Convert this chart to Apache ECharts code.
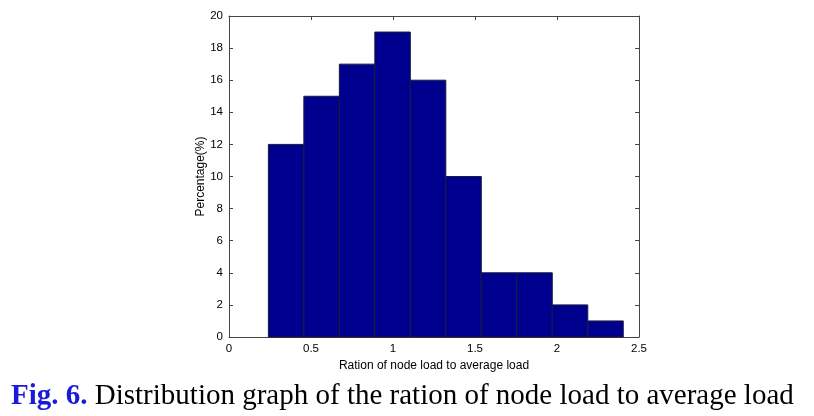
<!DOCTYPE html>
<html><head><meta charset="utf-8">
<script src="https://cdn.jsdelivr.net/npm/echarts@6/dist/echarts.min.js"></script>
<style>html,body{margin:0;padding:0;background:#fff}#c{width:814px;height:416px}</style>
</head><body><div id="c"></div>
<script>
// Histogram bins (MATLAB hist, 10 bins)
const binStart = 0.24;
const binWidth = 0.2164;
const percentages = [12, 15, 17, 19, 16, 10, 4, 4, 2, 1];
const xTicks = [0, 0.5, 1, 1.5, 2, 2.5];
const yTicks = [0, 2, 4, 6, 8, 10, 12, 14, 16, 18, 20];
const xLabel = 'Ration of node load to average load';
const yLabel = 'Percentage(%)';
const captionLead = 'Fig. 6.';
const captionText = ' Distribution graph of the ration of node load to average load';

const data = percentages.map((v, i) => [binStart + i * binWidth, binStart + (i + 1) * binWidth, v]);

const chart = echarts.init(document.getElementById('c'), null, {renderer: 'canvas'});
const tickFont = {fontFamily: 'Liberation Sans, Arial, sans-serif', fontSize: 11.5, color: '#000'};
const nameFont = {fontFamily: 'Liberation Sans, Arial, sans-serif', fontSize: 12, color: '#000'};
const lineCol = '#444';
const tickStyle = {show: true, inside: true, length: 4, lineStyle: {color: lineCol, width: 1}};
chart.setOption({
  animation: false,
  backgroundColor: '#fff',
  graphic: [{
    type: 'text',
    left: 11, top: 382,
    style: {
      text: '{a|' + captionLead + '}{b|' + captionText + '}',
      rich: {
        a: {fontFamily: 'Liberation Serif, Times New Roman, serif', fontSize: 29, fontWeight: 'bold', fill: '#1a1ad8'},
        b: {fontFamily: 'Liberation Serif, Times New Roman, serif', fontSize: 29, fontWeight: 'normal', fill: '#000'}
      }
    }
  }],
  grid: {left: 229, right: 175, top: 16, bottom: 79, show: false},
  xAxis: [{
    type: 'value', min: 0, max: 2.5, interval: 0.5,
    axisLine: {show: true, onZero: false, lineStyle: {color: lineCol, width: 1}},
    axisTick: tickStyle,
    axisLabel: Object.assign({margin: 6, formatter: v => String(v)}, tickFont),
    splitLine: {show: false},
    name: xLabel, nameLocation: 'middle', nameGap: 19,
    nameTextStyle: nameFont
  }, {
    type: 'value', min: 0, max: 2.5, interval: 0.5, position: 'top',
    axisLine: {show: true, onZero: false, lineStyle: {color: lineCol, width: 1}},
    axisTick: tickStyle,
    axisLabel: {show: false}, splitLine: {show: false}
  }],
  yAxis: [{
    type: 'value', min: 0, max: 20, interval: 2,
    axisLine: {show: true, onZero: false, lineStyle: {color: lineCol, width: 1}},
    axisTick: tickStyle,
    axisLabel: Object.assign({margin: 6}, tickFont),
    splitLine: {show: false},
    name: yLabel, nameLocation: 'middle', nameGap: 22, nameRotate: 90,
    nameMoveOverlap: false,
    nameTextStyle: nameFont
  }, {
    type: 'value', min: 0, max: 20, interval: 2, position: 'right',
    axisLine: {show: true, onZero: false, lineStyle: {color: lineCol, width: 1}},
    axisTick: tickStyle,
    axisLabel: {show: false}, splitLine: {show: false}
  }],
  series: [{
    type: 'custom',
    xAxisIndex: 0, yAxisIndex: 0,
    encode: {x: [0, 1], y: 2},
    data: data,
    z: 1,
    renderItem: function (params, api) {
      const p0 = api.coord([api.value(0), api.value(2)]);
      const p1 = api.coord([api.value(1), 0]);
      return {
        type: 'rect',
        shape: {x: p0[0], y: p0[1], width: p1[0] - p0[0], height: p1[1] - p0[1]},
        style: {fill: '#00008f', stroke: '#1a1a3a', lineWidth: 1}
      };
    }
  }, {
    type: 'line', xAxisIndex: 1, yAxisIndex: 1, data: [], silent: true
  }]
});
</script>
</body></html>
